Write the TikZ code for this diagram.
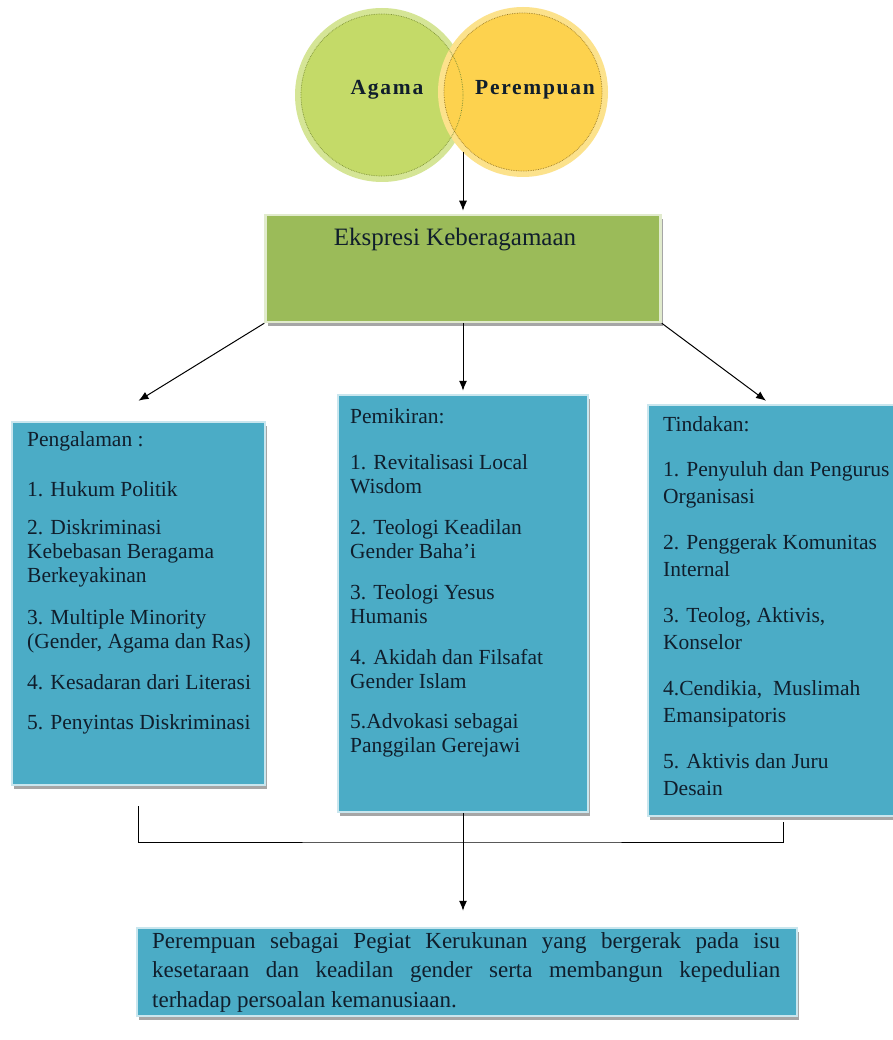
\documentclass[tikz,border=0pt]{standalone}
\usepackage{fontspec}
\setmainfont{Liberation Serif}
\newfontfamily\vennfont[LetterSpace=8]{Liberation Serif}
\usetikzlibrary{arrows.meta,shadows,positioning}
\hyphenpenalty=10000
\exhyphenpenalty=10000
\tolerance=9999
\definecolor{agamaring}{RGB}{213,229,150}
\definecolor{agamagreen}{RGB}{196,218,104}
\definecolor{agamadot}{RGB}{120,140,50}
\definecolor{perempuanring}{RGB}{252,226,140}
\definecolor{perempuanyellow}{RGB}{253,210,78}
\definecolor{perempuandot}{RGB}{150,120,40}
\definecolor{ekspresigreen}{RGB}{155,187,89}
\definecolor{boxblue}{RGB}{75,172,198}
\definecolor{boxtext}{RGB}{16,30,44}
\tikzset{
  vennring/.style={circle,inner sep=0pt},
  vennlabel/.style={font=\vennfont\bfseries\fontsize{21.5}{25}\selectfont,text=boxtext},
  colorbox/.style={rectangle,inner sep=0pt,draw=white!70!#1,line width=2.5pt,fill=#1,
    drop shadow={shadow xshift=2pt,shadow yshift=-4pt,fill=black!35,opacity=1}},
  itemtext/.style={anchor=north west,align=left,inner sep=0pt,text=boxtext,
    font=\fontsize{21.5}{24}\selectfont},
  arr/.style={-{Latex[length=10pt,width=8pt]},line width=1pt},
  link/.style={line width=1pt}
}
\begin{document}
\begin{tikzpicture}[x=1pt,y=-1pt]
\fill[white] (0,0) rectangle (892,1040);
\useasboundingbox (0,0) rectangle (892,1040);
\node[vennring,fill=agamaring,minimum size=174pt] (agama) at (382,95) {};
\fill[agamagreen] (agama.center) circle [radius=81pt];
\node[vennring,fill=perempuanring,minimum size=170pt] (perempuan) at (523,92) {};
\fill[perempuanyellow] (perempuan.center) circle [radius=79pt];
\draw[agamadot,densely dotted,line width=0.7pt] (agama.center) circle [radius=81pt];
\draw[perempuandot,densely dotted,line width=0.7pt] (perempuan.center) circle [radius=79pt];
\node[vennlabel] (agamalabel) at (387,90) {Agama};
\node[vennlabel] (perempuanlabel) at (535,90) {Perempuan};

\node[colorbox=ekspresigreen,minimum width=395pt,minimum height=107pt] (ekspresi) at (463,268.5) {};
\node[font=\fontsize{25}{28}\selectfont,text=boxtext] (ekspresilabel) at (455,240) {Ekspresi Keberagamaan};

\node[colorbox=boxblue,minimum width=253pt,minimum height=363pt] (pengalaman) at (138.5,603.5) {};
\node[colorbox=boxblue,minimum width=250pt,minimum height=417pt] (pemikiran) at (463,603.5) {};
\node[colorbox=boxblue,minimum width=252pt,minimum height=411pt] (tindakan) at (774,610.5) {};
\node[colorbox=boxblue,minimum width=660pt,minimum height=88pt] (kesimpulan) at (467,972) {};

\node[itemtext] (pengalamantext) at (27,431) {Pengalaman :\\[26pt]1. Hukum Politik\\[14pt]2. Diskriminasi\\Kebebasan Beragama\\Berkeyakinan\\[18pt]3. Multiple Minority\\(Gender, Agama dan Ras)\\[17pt]4. Kesadaran dari Literasi\\[16pt]5. Penyintas Diskriminasi};
\node[itemtext] (pemikirantext) at (350,408) {Pemikiran:\\[22pt]1. Revitalisasi Local\\Wisdom\\[17pt]2. Teologi Keadilan\\Gender Baha’i\\[17pt]3. Teologi Yesus\\Humanis\\[17pt]4. Akidah dan Filsafat\\Gender Islam\\[16pt]5.Advokasi sebagai\\Panggilan Gerejawi};
\node[itemtext,font=\fontsize{21.5}{26.5}\selectfont] (tindakantext) at (663,416) {Tindakan:\\[19pt]1. Penyuluh dan Pengurus\\Organisasi\\[20pt]2. Penggerak Komunitas\\Internal\\[20pt]3. Teolog, Aktivis,\\Konselor\\[20pt]4.Cendikia,\ \ Muslimah\\Emansipatoris\\[20pt]5. Aktivis dan Juru\\Desain};
\node[anchor=north west,inner sep=0pt,text width=628pt,align=justify,text=boxtext,
  font=\fontsize{23}{29.5}\selectfont] (kesimpulantext) at (152,932)
  {Perempuan sebagai Pegiat Kerukunan yang bergerak pada isu kesetaraan dan keadilan gender serta membangun kepedulian terhadap persoalan kemanusiaan.};

\coordinate (lens) at (463,152);
\draw[arr,shorten >=3pt] (lens) -- (ekspresi.north);
\coordinate (tipL) at ([yshift=20pt]pengalaman.north);
\draw[arr] (ekspresi.south west) -- (tipL);
\draw[arr,shorten >=3pt] (ekspresi.south) -- (pemikiran.north);
\draw[arr,shorten >=5pt] (ekspresi.south east) -- ([xshift=-4pt]tindakan.north);
\coordinate (merge) at (463,842);
\coordinate (tipB) at ([yshift=16pt]kesimpulan.north);
\draw[link] ([yshift=-20pt]pengalaman.south) |- (merge) -| ([xshift=9pt,yshift=-5pt]tindakan.south);
\draw[arr] (pemikiran.south) -- (pemikiran.south |- tipB);
\end{tikzpicture}
\end{document}
